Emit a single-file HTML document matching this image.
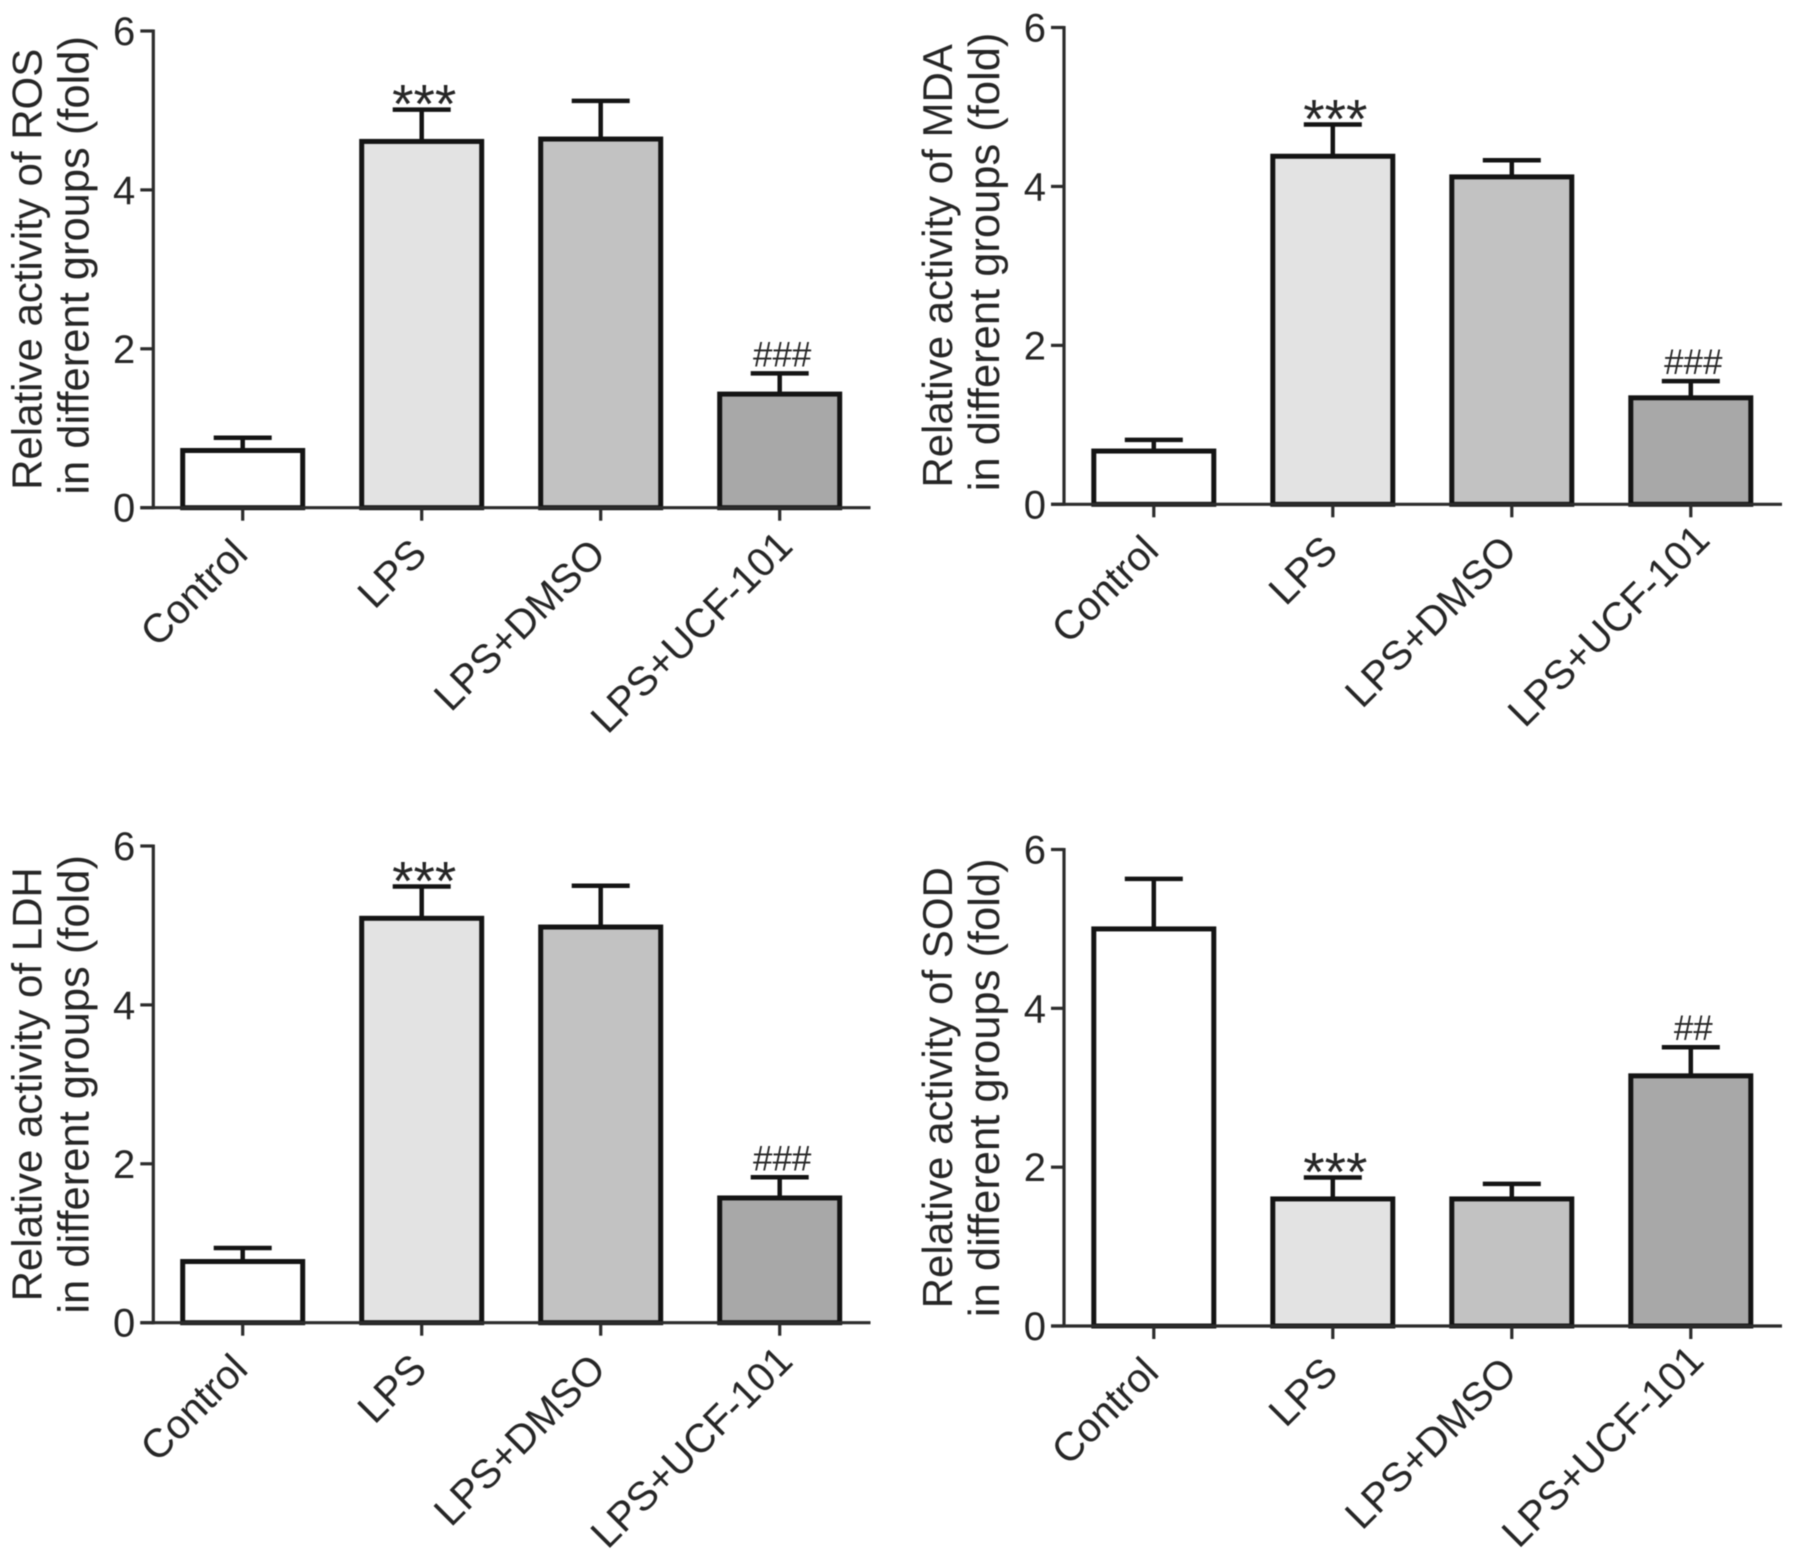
<!DOCTYPE html>
<html lang="en">
<head>
<meta charset="utf-8">
<title>Relative activity of ROS, MDA, LDH and SOD</title>
<style>
  html, body { margin: 0; padding: 0; background: #fff; }
  svg { display: block; filter: blur(0.6px); }
  text { font-family: "Liberation Sans", sans-serif; fill: #262626; }
</style>
</head>
<body>
<svg id="figure" xmlns="http://www.w3.org/2000/svg" width="1795" height="1557" viewBox="0 0 1795 1557"></svg>
<script>
const categories = ['Control', 'LPS', 'LPS+DMSO', 'LPS+UCF-101'];
const yTickValues = [0, 2, 4, 6];

const rosValues = [0.72, 4.61, 4.64, 1.43];
const rosErrorTops = [0.88, 5.01, 5.12, 1.69];
const rosMarks = ['', '***', '', '###'];

const mdaValues = [0.67, 4.38, 4.12, 1.34];
const mdaErrorTops = [0.81, 4.78, 4.33, 1.55];
const mdaMarks = ['', '***', '', '###'];

const ldhValues = [0.77, 5.09, 4.98, 1.57];
const ldhErrorTops = [0.94, 5.49, 5.50, 1.83];
const ldhMarks = ['', '***', '', '###'];

const sodValues = [5.00, 1.60, 1.60, 3.15];
const sodErrorTops = [5.63, 1.87, 1.79, 3.51];
const sodMarks = ['', '***', '', '##'];

const SVG_NS = 'http://www.w3.org/2000/svg';
const figure = document.getElementById('figure');
const barFills = ['#ffffff', '#e3e3e3', '#c2c2c2', '#a8a8a8'];
const INK = '#141414';
const AXIS_INK = '#2c2c2c';

function make(tag, attrs, parent, content) {
  const node = document.createElementNS(SVG_NS, tag);
  Object.keys(attrs).forEach(function (k) { node.setAttribute(k, attrs[k]); });
  if (content !== undefined) node.textContent = content;
  parent.appendChild(node);
  return node;
}

function drawPanel(cfg) {
  const yScale = function (v) { return cfg.y0 + (cfg.y6 - cfg.y0) * v / 6; };
  const xScale = function (i) { return cfg.firstCenter + i * 179; };
  const halfBar = 60;
  const capHalf = 29;

  const panel = make('g', {}, figure);
  
  

  cfg.values.forEach(function (v, i) {
    const cx = xScale(i);
    const group = make('g', {}, panel);
    
    

    const stem = make('line', { x1: cx, x2: cx, y1: yScale(cfg.errorTops[i]), y2: yScale(v), stroke: INK, 'stroke-width': 4.5 }, group);
    
    

    const cap = make('line', { x1: cx - capHalf, x2: cx + capHalf, y1: yScale(cfg.errorTops[i]), y2: yScale(cfg.errorTops[i]), stroke: INK, 'stroke-width': 4.5 }, group);
    
    

    const bar = make('rect', { x: cx - halfBar, y: yScale(v), width: halfBar * 2, height: yScale(0) - yScale(v), fill: barFills[i], stroke: INK, 'stroke-width': 5 }, group);
    
    

    const mark = cfg.marks[i];
    if (mark) {
      const isStar = mark.charAt(0) === '*';
      const note = make('text', {
        x: cx + 2.5,
        y: yScale(cfg.errorTops[i]) + (isStar ? 13 : -7),
        'text-anchor': 'middle',
        'font-size': isStar ? 55 : 35
      }, group, mark);
      
      
    }
  });

  const yAxis = make('line', { x1: cfg.axisX, x2: cfg.axisX, y1: yScale(6) - 1.5, y2: yScale(0) + 1.5, stroke: AXIS_INK, 'stroke-width': 3.2 }, panel);
  
  

  const xAxis = make('line', { x1: cfg.axisX - 13, x2: cfg.xEnd, y1: yScale(0), y2: yScale(0), stroke: AXIS_INK, 'stroke-width': 3.2 }, panel);
  
  

  yTickValues.forEach(function (t) {
    const tick = make('line', { x1: cfg.axisX - 13, x2: cfg.axisX, y1: yScale(t), y2: yScale(t), stroke: AXIS_INK, 'stroke-width': 3.2 }, panel);
    
    

    const label = make('text', { x: cfg.axisX - 18, y: yScale(t) + 14, 'text-anchor': 'end', 'font-size': 40 }, panel, String(t));
    
    
  });

  categories.forEach(function (name, i) {
    const cx = xScale(i);
    const tick = make('line', { x1: cx, x2: cx, y1: yScale(0), y2: yScale(0) + 13, stroke: AXIS_INK, 'stroke-width': 3.2 }, panel);
    
    

    const isLast = i === categories.length - 1;
    const lx = cx + 7 + (isLast ? cfg.lastLabelShiftX : 0);
    const ly = yScale(0) + 48.5 + (isLast ? cfg.lastLabelShiftY : 0);
    const label = make('text', { x: lx, y: ly, 'text-anchor': 'end', 'font-size': 40.5, transform: 'rotate(-45 ' + lx + ' ' + ly + ')' }, panel, name);
    
    
  });

  const midY = (yScale(0) + yScale(6)) / 2;
  const t1x = cfg.axisX - 112;
  const title1 = make('text', { x: t1x, y: midY, 'text-anchor': 'middle', 'font-size': 42, transform: 'rotate(-90 ' + t1x + ' ' + midY + ')' }, panel, cfg.title);
  
  

  const t2x = cfg.axisX - 65;
  const t2y = midY + cfg.subtitleShift;
  const title2 = make('text', { x: t2x, y: t2y, 'text-anchor': 'middle', 'font-size': 43.5, transform: 'rotate(-90 ' + t2x + ' ' + t2y + ')' }, panel, 'in different groups (fold)');
  
  
}

drawPanel({ key: 'ros', title: 'Relative activity of ROS', values: rosValues, errorTops: rosErrorTops, marks: rosMarks, axisX: 153.3, firstCenter: 242.7, xEnd: 870.5, y0: 507.7, y6: 31, subtitleShift: -4, lastLabelShiftX: 8, lastLabelShiftY: -8 });
drawPanel({ key: 'mda', title: 'Relative activity of MDA', values: mdaValues, errorTops: mdaErrorTops, marks: mdaMarks, axisX: 1064, firstCenter: 1153.8, xEnd: 1782, y0: 504.3, y6: 27.5, subtitleShift: -4, lastLabelShiftX: 14, lastLabelShiftY: -11 });
drawPanel({ key: 'ldh', title: 'Relative activity of LDH', values: ldhValues, errorTops: ldhErrorTops, marks: ldhMarks, axisX: 153.3, firstCenter: 242.7, xEnd: 870.5, y0: 1322.7, y6: 846, subtitleShift: 0, lastLabelShiftX: 8, lastLabelShiftY: -8 });
drawPanel({ key: 'sod', title: 'Relative activity of SOD', values: sodValues, errorTops: sodErrorTops, marks: sodMarks, axisX: 1064, firstCenter: 1153.8, xEnd: 1782, y0: 1326, y6: 849.5, subtitleShift: 0, lastLabelShiftX: 8, lastLabelShiftY: -12 });
</script>
</body>
</html>
